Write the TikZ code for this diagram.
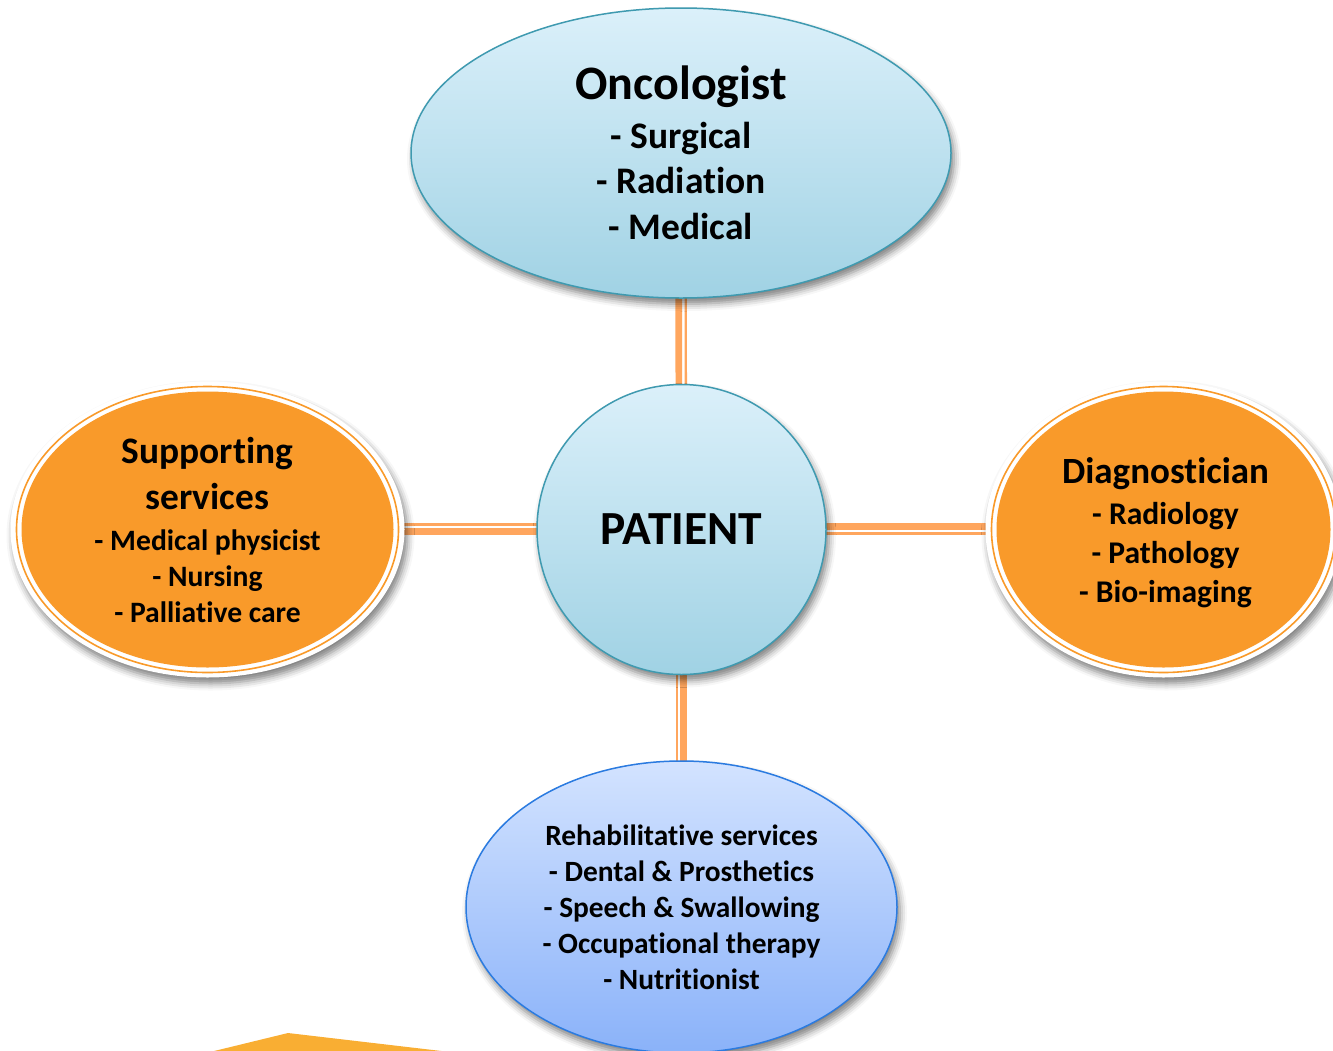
\documentclass[tikz,border=0pt]{standalone}
\usepackage{fontspec}
\setmainfont{Carlito}[Ligatures=NoCommon]
\usetikzlibrary{shapes.geometric,shadows.blur,backgrounds}

\definecolor{skytop}{HTML}{DBF0FA}
\definecolor{skybot}{HTML}{A0D2E4}
\definecolor{skyline}{HTML}{3F9AB0}
\definecolor{lavtop}{HTML}{D3E3FF}
\definecolor{lavbot}{HTML}{8AB2F9}
\definecolor{lavline}{HTML}{2B7BE0}
\definecolor{amber}{HTML}{F99A2A}
\definecolor{link}{HTML}{FFA65E}
\definecolor{peak}{HTML}{F9AE33}

\newcommand{\fs}[2]{\fontsize{#1}{#2}\selectfont}

\begin{document}
\begin{tikzpicture}[x=1pt,y=-1pt,
  soft/.style={blur shadow={shadow xshift=3pt, shadow yshift=-6pt,
      shadow blur radius=7pt, shadow opacity=50}},
  bubble/.style={ellipse, inner sep=0pt, line width=1.5pt, soft, align=center},
  skybub/.style={bubble, draw=skyline, top color=skytop, bottom color=skybot},
  lavbub/.style={bubble, draw=lavline, top color=lavtop, bottom color=lavbot},
  halo/.style={ellipse, inner sep=0pt, fill=white, soft},
  ring/.style={ellipse, inner sep=0pt, draw=amber, line width=1.6pt},
  orangebub/.style={ellipse, inner sep=0pt, fill=amber, align=center},
  thickline/.style={draw=link, line width=6.6pt},
  thinline/.style={draw=link, line width=2.4pt},
]
\useasboundingbox (0,0) rectangle (1333,1050);
\clip (0,0) rectangle (1333,1050);

% orange peak at the bottom edge
\fill[peak] (210,1052) -- (288,1033) -- (450,1052) -- cycle;

% oncologist
\node[skybub, minimum width=540pt, minimum height=290pt,
      font=\bfseries\fs{37.5}{45.5}] (onc) at (681,153)
  {{\fs{48}{46}Oncologist}\\[3pt]- Surgical\\- Radiation\\- Medical};

% patient
\node[skybub, minimum width=289pt, minimum height=290pt,
      font=\bfseries\fs{47.5}{46}] (pat) at (681.5,529.5) {PATIENT};

% rehabilitative services
\node[lavbub, minimum width=431pt, minimum height=292pt,
      font=\bfseries\fs{29.4}{36}] (reh) at (681.5,907)
  {Rehabilitative services\\- Dental \& Prosthetics\\
   - Speech \& Swallowing\\- Occupational therapy\\- Nutritionist};

% supporting services
\node[halo, minimum width=394pt, minimum height=296pt] (suphalo) at (207.5,529.5) {};
\node[ring, minimum width=382pt, minimum height=286pt] (supring) at (207.5,529.5) {};
\node[orangebub, minimum width=372pt, minimum height=276pt,
      font=\bfseries\fs{29.6}{36}] (sup) at (207.5,529.5)
  {{\fs{37.4}{46}Supporting}\\[10pt]{\fs{37.4}{46}services}\\[5pt]- Medical physicist\\- Nursing\\- Palliative care};

% diagnostician
\node[halo, minimum width=356pt, minimum height=296pt] (diahalo) at (1163.5,529.5) {};
\node[ring, minimum width=344pt, minimum height=286pt] (diaring) at (1163.5,529.5) {};
\node[orangebub, minimum width=334pt, minimum height=276pt] (dia) at (1163.5,529.5) {};
\node[align=center, inner sep=0pt, font=\bfseries\fs{31.6}{39}] (diatext)
  at ([xshift=2pt,yshift=-3pt]dia.center)
  {{\fs{37}{43}Diagnostician}\\[2pt]- Radiology\\- Pathology\\- Bio-imaging};

% double links between the patient and each team
\begin{scope}[on background layer]
  \draw[thickline] ([xshift=-2.5pt]onc.center) -- ([xshift=-2.5pt]pat.center);
  \draw[thinline]  ([xshift=4.5pt]onc.center) -- ([xshift=4.5pt]pat.center);
  \draw[thinline]  ([xshift=-4.5pt]pat.center) -- ([xshift=-4.5pt]reh.center);
  \draw[thickline] ([xshift=2pt]pat.center) -- ([xshift=2pt]reh.center);
  \draw[thinline]  ([yshift=5pt]sup.center) -- ([yshift=5pt]pat.center);
  \draw[thickline] ([yshift=-2pt]sup.center) -- ([yshift=-2pt]pat.center);
  \draw[thickline] ([yshift=3pt]pat.center) -- ([yshift=3pt]dia.center);
  \draw[thinline]  ([yshift=-4pt]pat.center) -- ([yshift=-4pt]dia.center);
\end{scope}
\end{tikzpicture}
\end{document}
